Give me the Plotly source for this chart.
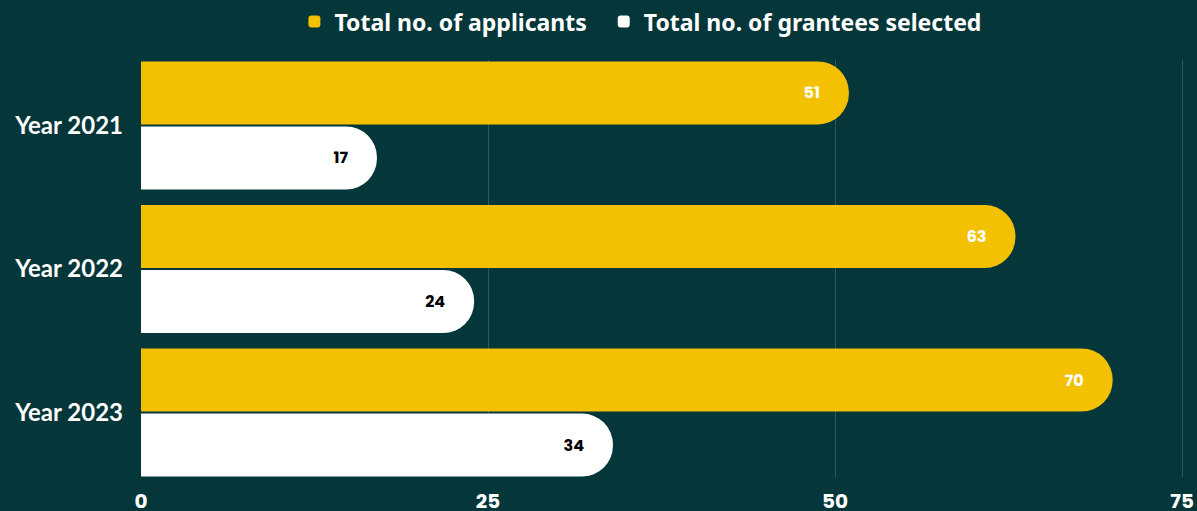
import plotly.graph_objects as go

years = ["Year 2021", "Year 2022", "Year 2023"]
applicants = [51, 63, 70]
grantees = [17, 24, 34]
tick_vals = [0, 25, 50, 75]

BG = "#04363A"
YELLOW = "#F3C102"
PAD = "\u00a0" * 7

fig = go.Figure()
fig.add_trace(go.Bar(
    y=years, x=applicants, orientation="h", name="Total no. of applicants\u00a0\u00a0",
    marker=dict(color=YELLOW, cornerradius="50%", line=dict(width=0)),
    text=[f"{v}{PAD}" for v in applicants], textposition="inside", insidetextanchor="end",
    textfont=dict(family="Poppins, Roboto, sans-serif", size=16, color="white", weight="bold"),
    hoverinfo="x+name",
))
fig.add_trace(go.Bar(
    y=years, x=grantees, orientation="h", name="Total no. of grantees selected",
    marker=dict(color="#FFFFFF", cornerradius="50%", line=dict(width=0)),
    text=[f"{v}{PAD}" for v in grantees], textposition="inside", insidetextanchor="end",
    textfont=dict(family="Poppins, Roboto, sans-serif", size=16, color="black", weight="bold"),
    hoverinfo="x+name",
))

fig.update_layout(
    width=1197, height=511,
    paper_bgcolor=BG, plot_bgcolor=BG,
    margin=dict(l=141, r=8, t=60, b=34, autoexpand=False),
    barmode="group", bargap=0.094, bargroupgap=0.03,
    font=dict(family="Lato, sans-serif", color="white"),
    legend=dict(
        orientation="h", x=0.477, xanchor="center", y=1.092, yanchor="middle",
        font=dict(family="Noto Sans, sans-serif", size=23, color="white", weight="bold"),
        bgcolor="rgba(0,0,0,0)",
    ),
    xaxis=dict(
        range=[0, 75.5], tickvals=tick_vals, showgrid=True, gridcolor="#2E5A5E", gridwidth=1,
        zeroline=False, showline=False, automargin=False, ticklabelstandoff=10,
        tickfont=dict(family="Poppins, Roboto, sans-serif", size=20, color="white", weight="bold"),
    ),
    yaxis=dict(
        categoryorder="array", categoryarray=years, range=[2.449, -0.456],
        showgrid=False, zeroline=False, showline=False, automargin=False, ticklabelstandoff=17,
        tickfont=dict(family="Lato, sans-serif", size=24, color="white", weight="bold"),
    ),
)

fig.write_html(
    "out.html",
    config={"displayModeBar": False},
    post_script="document.body.style.margin='0';document.body.style.padding='0';"
                "document.body.style.overflow='hidden';",
)
